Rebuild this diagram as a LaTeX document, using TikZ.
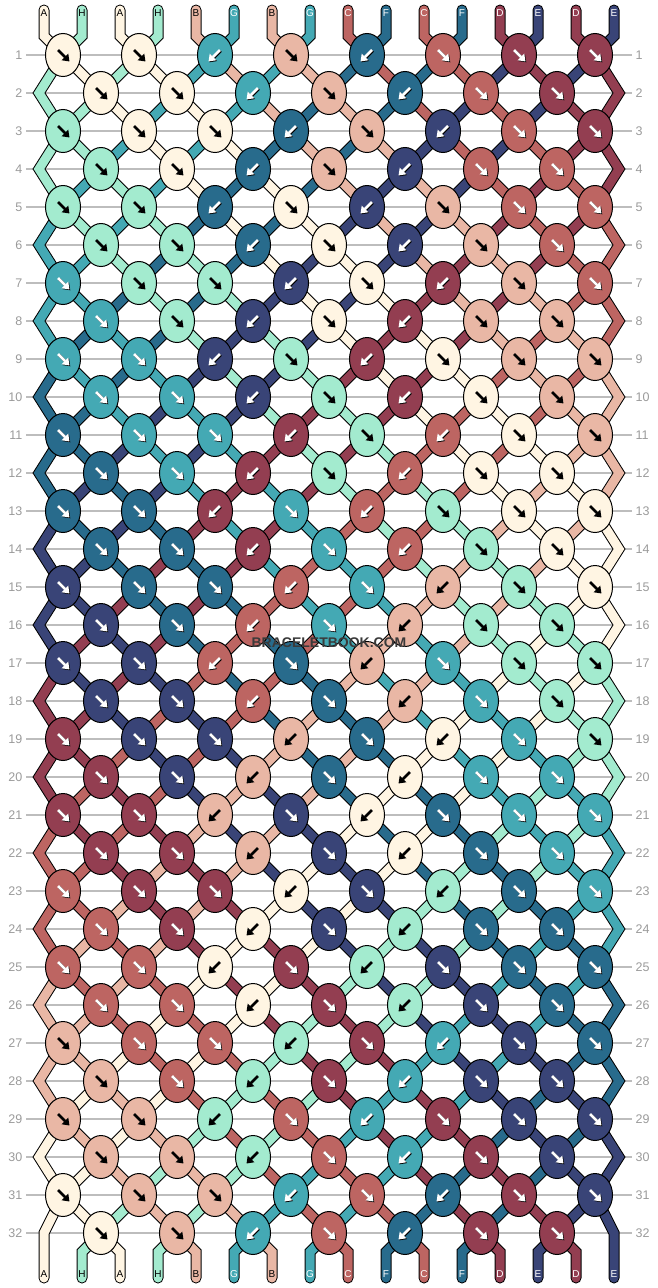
\documentclass[tikz,border=0pt]{standalone}
\usepackage{fontspec}
\setmainfont{Liberation Sans}
\usetikzlibrary{shapes.geometric,arrows.meta}

\definecolor{colA}{HTML}{FFF5E3}
\definecolor{colH}{HTML}{A3EBCF}
\definecolor{colB}{HTML}{E9B7A5}
\definecolor{colG}{HTML}{44A9B4}
\definecolor{colC}{HTML}{BD6562}
\definecolor{colF}{HTML}{286B8C}
\definecolor{colD}{HTML}{933E51}
\definecolor{colE}{HTML}{394477}
\colorlet{arrA}{black}
\colorlet{arrH}{black}
\colorlet{arrB}{black}
\colorlet{arrG}{white}
\colorlet{arrC}{white}
\colorlet{arrF}{white}
\colorlet{arrD}{white}
\colorlet{arrE}{white}
\colorlet{shA}{colA}
\colorlet{shH}{colH}
\colorlet{shB}{colB}
\colorlet{shG}{black}
\colorlet{shC}{black}
\colorlet{shF}{black}
\colorlet{shD}{black}
\colorlet{shE}{black}
\definecolor{gridgray}{HTML}{BDBDBD}
\definecolor{numgray}{HTML}{9A9A9A}
\definecolor{wmgray}{HTML}{3A3A3A}

\pgfdeclarelayer{grid}
\pgfdeclarelayer{strands}
\pgfsetlayers{grid,strands,main}

\tikzset{
  strand/.style={line width=1pt, double=#1, double distance=9pt, line cap=round},
  knot/.style={ellipse, draw=black, line width=1pt, fill=#1, minimum width=35pt, minimum height=43pt, inner sep=0pt},
  knotarrow/.style={color=#1, line width=2.7pt, -{Triangle[length=6.5pt,width=9pt]}},
  gridline/.style={draw=gridgray, line width=1.5pt},
  rownum/.style={text=numgray, inner sep=0pt, font=\fontsize{12.5}{14}\selectfont},
  strandlabel/.style={inner sep=0pt, font=\fontsize{10}{12}\selectfont},
  wmark/.style={inner sep=0pt, font=\fontsize{14}{16}\selectfont\bfseries}
}

\begin{document}
\begin{tikzpicture}[x=1pt,y=-1pt]
\useasboundingbox (0,0) rectangle (658,1288);

% slot positions, top and bottom ends
\foreach \i in {0,...,15} {
  \coordinate (t\i) at (44+38*\i, 10);
  \coordinate (s0-\i) at (44+38*\i, 36);
  \coordinate (s33-\i) at (44+38*\i, 1252);
  \coordinate (b\i) at (44+38*\i, 1278);
}
\foreach \r in {1,...,32} {
  \pgfmathsetmacro{\y}{55+38*(\r-1)}
  \foreach \i in {0,...,15} {
    \ifodd\r\relax
      \pgfmathsetmacro{\x}{63+76*floor(\i/2)}
    \else
      \ifnum\i=0\relax
        \pgfmathsetmacro{\x}{\r==32 ? 44 : 39}
      \else\ifnum\i=15\relax
        \pgfmathsetmacro{\x}{\r==32 ? 614 : 619}
      \else
        \pgfmathsetmacro{\x}{101+76*floor((\i-1)/2)}
      \fi\fi
    \fi
    \coordinate (s\r-\i) at (\x,\y);
  }
}

% grid and row numbers
\begin{pgfonlayer}{grid}
\foreach \r in {1,...,32} {
  \draw[gridline] (26, 55+38*\r-38) -- (632, 55+38*\r-38);
}
\end{pgfonlayer}
\foreach \r in {1,...,32} {
  \node[rownum, anchor=east] (nl\r) at (22.5, 55+38*\r-38) {\r};
  \node[rownum, anchor=west] (nr\r) at (635.5, 55+38*\r-38) {\r};
}

% strings at the start
\foreach \c [count=\i from 0] in {A,H,A,H,B,G,B,G,C,F,C,F,D,E,D,E} {
  \expandafter\xdef\csname st\i\endcsname{\c}
  \expandafter\xdef\csname sc0-\i\endcsname{\c}
  \node[strandlabel, text=arr\c] (lt\i) at (44+38*\i, 13) {\c};
}

% knots row by row
\foreach \r in {1,...,32} {
  \pgfmathtruncatemacro{\phase}{mod(\r,4)}
  \ifodd\r\relax \def\last{7}\def\off{0}\else \def\last{6}\def\off{1}\fi
  \foreach \k in {0,...,\last} {
    \pgfmathtruncatemacro{\li}{2*\k+\off}
    \pgfmathtruncatemacro{\ri}{\li+1}
    \pgfmathtruncatemacro{\back}{(\phase==3 && (\k==3 || \k==5)) || (\phase!=3 && (\k==2 || \k==4))}
    \edef\stL{\csname st\li\endcsname}
    \edef\stR{\csname st\ri\endcsname}
    \ifnum\back=1\relax \let\kc\stR \else \let\kc\stL \fi
    \node[knot=col\kc] (k\r-\k) at (s\r-\li) {};
    \ifnum\back=1\relax
      \draw[knotarrow=sh\kc] ([shift={(5.8,-4.2)}]k\r-\k.center) -- ([shift={(-5.7,7.3)}]k\r-\k.center);
      \draw[knotarrow=arr\kc] ([shift={(5,-5)}]k\r-\k.center) -- ([shift={(-6.5,6.5)}]k\r-\k.center);
    \else
      \draw[knotarrow=sh\kc] ([shift={(-4.2,-4.2)}]k\r-\k.center) -- ([shift={(7.3,7.3)}]k\r-\k.center);
      \draw[knotarrow=arr\kc] ([shift={(-5,-5)}]k\r-\k.center) -- ([shift={(6.5,6.5)}]k\r-\k.center);
    \fi
    \expandafter\xdef\csname st\li\endcsname{\stR}
    \expandafter\xdef\csname st\ri\endcsname{\stL}
  }
  \foreach \i in {0,...,15} {
    \expandafter\xdef\csname sc\r-\i\endcsname{\csname st\i\endcsname}
  }
}

% strings between the rows
\begin{pgfonlayer}{strands}
\foreach \i in {0,...,15} {
  \edef\sc{\csname sc0-\i\endcsname}
  \draw[strand=col\sc] (t\i) -- (s0-\i) -- (s1-\i);
}
\foreach \r in {1,...,32} {
  \pgfmathtruncatemacro{\nr}{\r+1}
  \pgfmathtruncatemacro{\nnr}{\r+2}
  \foreach \i in {0,...,15} {
    \edef\sc{\csname sc\r-\i\endcsname}
    \pgfmathtruncatemacro{\edge}{(\i==0 || \i==15)}
    \ifodd\r\relax
      \ifnum\edge=1\relax
        \ifnum\r=31\relax
          \draw[strand=col\sc] (s\r-\i) -- (s\nr-\i) -- (s\nnr-\i) -- (b\i);
        \else
          \draw[strand=col\sc] (s\r-\i) -- (s\nr-\i) -- (s\nnr-\i);
        \fi
      \else
        \draw[strand=col\sc] (s\r-\i) -- (s\nr-\i);
      \fi
    \else
      \ifnum\edge=0\relax
        \ifnum\r=32\relax
          \draw[strand=col\sc] (s\r-\i) -- (s33-\i) -- (b\i);
        \else
          \draw[strand=col\sc] (s\r-\i) -- (s\nr-\i);
        \fi
      \fi
    \fi
  }
}
\end{pgfonlayer}

% labels at the end
\foreach \i in {0,...,15} {
  \edef\sc{\csname st\i\endcsname}
  \node[strandlabel, text=arr\sc] (lb\i) at (44+38*\i, 1274) {\sc};
}

% watermark
\node[wmark, text=wmgray] (wm) at (329,643) {BRACELETBOOK.COM};
\end{tikzpicture}
\end{document}
